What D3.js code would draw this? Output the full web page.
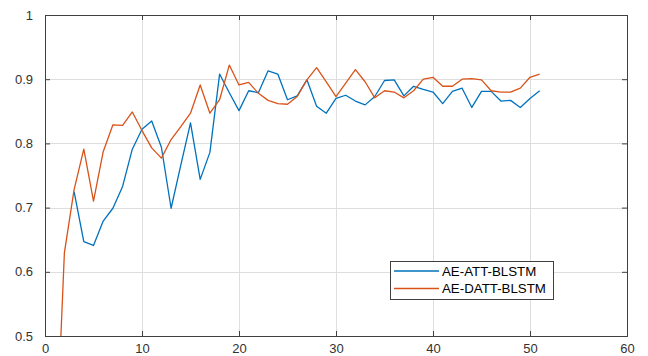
<!DOCTYPE html>
<html>
<head>
<meta charset="utf-8">
<script src="https://cdn.jsdelivr.net/npm/d3@7/dist/d3.min.js"></script>
<style>
  html, body { margin: 0; padding: 0; background: #fff; }
  svg { display: block; }
  text { font-family: "Liberation Sans", Arial, Helvetica, sans-serif; }
</style>
</head>
<body>
<script>
// Accuracy per epoch for the two models
const epochsAtt = d3.range(3, 52);
const accAtt = [
  0.725, 0.647, 0.641, 0.679, 0.699, 0.733, 0.791, 0.822, 0.835, 0.794,
  0.699, 0.766, 0.832, 0.744, 0.786, 0.908, 0.879, 0.851, 0.882, 0.879,
  0.913, 0.908, 0.868, 0.874, 0.899, 0.858, 0.847, 0.870, 0.875, 0.866,
  0.860, 0.873, 0.898, 0.899, 0.874, 0.889, 0.884, 0.880, 0.862, 0.881,
  0.886, 0.856, 0.881, 0.881, 0.866, 0.867, 0.856, 0.870, 0.882
];
const epochsDatt = d3.range(1, 52);
const accDatt = [
  0.27, 0.63, 0.728, 0.791, 0.710, 0.787, 0.829, 0.828, 0.849, 0.820,
  0.793, 0.777, 0.806, 0.826, 0.847, 0.891, 0.847, 0.868, 0.922, 0.891,
  0.895, 0.878, 0.867, 0.862, 0.861, 0.873, 0.899, 0.918, 0.896, 0.873,
  0.894, 0.915, 0.896, 0.871, 0.882, 0.880, 0.871, 0.882, 0.900, 0.903,
  0.889, 0.889, 0.900, 0.901, 0.899, 0.882, 0.880, 0.880, 0.886, 0.903,
  0.908
];
const seriesNames = ["AE-ATT-BLSTM", "AE-DATT-BLSTM"];
const seriesColors = ["#0072BD", "#D95319"];
const xTicks = [0, 10, 20, 30, 40, 50, 60];
const yTicks = [0.5, 0.6, 0.7, 0.8, 0.9, 1];

const W = 648, H = 356;
const L = 45, R = 627, T = 15, B = 336;

const svg = d3.select("body").append("svg").attr("width", W).attr("height", H);

const x = d3.scaleLinear().domain([0, 60]).range([L, R]);
const y = d3.scaleLinear().domain([0.5, 1]).range([B, T]);

// grid
const grid = svg.append("g");
grid.selectAll(".gx").data(xTicks.slice(1, -1)).join("line")
  .attr("x1", d => x(d) + 0.5).attr("x2", d => x(d) + 0.5)
  .attr("y1", T).attr("y2", B)
  .attr("stroke", "#dedede").attr("stroke-width", 1);
grid.selectAll(".gy").data(yTicks.slice(1, -1)).join("line")
  .attr("y1", d => Math.round(y(d)) + 0.5).attr("y2", d => Math.round(y(d)) + 0.5)
  .attr("x1", L).attr("x2", R)
  .attr("stroke", "#dedede").attr("stroke-width", 1);

// clipped data lines
svg.append("defs").append("clipPath").attr("id", "plot")
  .append("rect").attr("x", L).attr("y", T).attr("width", R - L).attr("height", B - T);

const line = d3.line().x(d => x(d[0])).y(d => y(d[1]));
const series = [
  d3.zip(epochsAtt, accAtt),
  d3.zip(epochsDatt, accDatt)
];
svg.append("g").attr("clip-path", "url(#plot)")
  .selectAll("path").data(series).join("path")
  .attr("d", line)
  .attr("fill", "none")
  .attr("stroke", (d, i) => seriesColors[i])
  .attr("stroke-width", 1.3)
  .attr("stroke-linejoin", "round");

// axes: ticks pointing inward on all four sides
const axisColor = "#404040";
const fmt = d => d === 1 ? "1" : (d3.format(".1f")(d));
const axB = svg.append("g").attr("transform", `translate(0,${B})`)
  .call(d3.axisBottom(x).tickValues(xTicks).tickSize(-5).tickPadding(8).tickFormat(d3.format("d")));
const axT = svg.append("g").attr("transform", `translate(0,${T})`)
  .call(d3.axisTop(x).tickValues(xTicks).tickSize(-5).tickFormat(""));
const axL = svg.append("g").attr("transform", `translate(${L},0)`)
  .call(d3.axisLeft(y).tickValues(yTicks).tickSize(-5).tickPadding(12).tickFormat(fmt));
const axR = svg.append("g").attr("transform", `translate(${R},0)`)
  .call(d3.axisRight(y).tickValues(yTicks).tickSize(-5).tickFormat(""));

[axB, axT, axL, axR].forEach(g => {
  g.select(".domain").attr("stroke", axisColor).attr("stroke-width", 1);
  g.selectAll(".tick line").attr("stroke", axisColor);
  g.selectAll(".tick text").attr("fill", "#333").attr("font-size", 13)
    .attr("font-family", "'Liberation Sans', Arial, sans-serif");
});
axB.selectAll(".tick text").attr("dy", "0.71em");

// legend
const lg = svg.append("g");
const lx = 390, ly = 261, lw = 163, lh = 38;
lg.append("rect").attr("x", lx + 0.5).attr("y", ly + 0.5).attr("width", lw).attr("height", lh)
  .attr("fill", "#fff").attr("stroke", "#404040").attr("stroke-width", 1);
seriesNames.forEach((name, i) => {
  const yy = ly + 10 + i * 17.5;
  lg.append("line").attr("x1", lx + 4).attr("x2", lx + 49).attr("y1", yy).attr("y2", yy)
    .attr("stroke", seriesColors[i]).attr("stroke-width", 1.3);
  lg.append("text").attr("x", lx + 52).attr("y", yy).attr("dy", "0.35em")
    .attr("font-size", 13.3).attr("fill", "#000").text(name);
});
</script>
</body>
</html>
